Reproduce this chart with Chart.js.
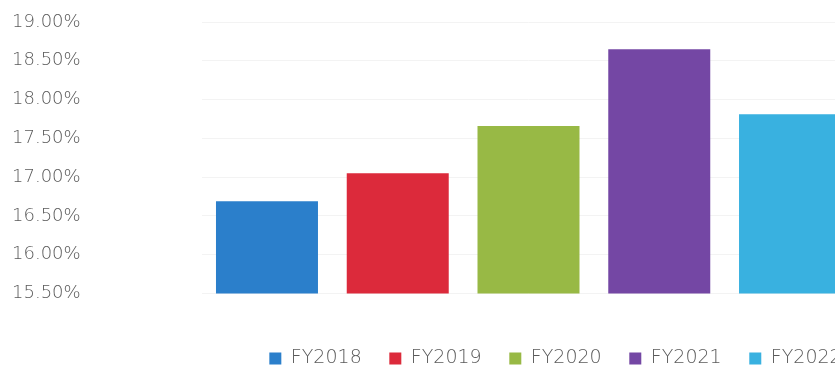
<!DOCTYPE html>
<html>
<head>
<meta charset="utf-8">
<script src="https://cdn.jsdelivr.net/npm/chart.js@4/dist/chart.umd.min.js"></script>
<style>
  html, body { margin: 0; padding: 0; background: #fff; overflow: hidden; }
  #wrap { position: relative; width: 1100px; height: 378px; }
</style>
</head>
<body>
<div id="wrap"><canvas id="myChart"></canvas></div>
<script>
const years = ['FY2018', 'FY2019', 'FY2020', 'FY2021', 'FY2022'];
const ratios = [16.69, 17.05, 17.66, 18.65, 17.81];
const yTicks = [15.5, 16, 16.5, 17, 17.5, 18, 18.5, 19];

const chartColors = {
  blue: '#2b7fcb',
  red: '#dc2a3b',
  green: '#98b945',
  purple: '#7447a4',
  cyan: '#39b1e0'
};
const barColors = [chartColors.blue, chartColors.red, chartColors.green, chartColors.purple, chartColors.cyan];

const tickFont = { family: 'DejaVu Sans', size: 18, weight: 300 };
const legendFont = { family: 'DejaVu Sans', size: 19, weight: 300 };

// one dataset per year so each gets its own legend entry
const datasets = years.map((year, i) => ({
  label: year,
  data: years.map((_, j) => (i === j ? ratios[i] : null)),
  backgroundColor: barColors[i],
  borderWidth: 0,
  barPercentage: 0.78,
  categoryPercentage: 1
}));

var ctx = document.getElementById('myChart').getContext('2d');
var myChart = new Chart(ctx, {
  type: 'bar',
  data: {
    labels: years,
    datasets: datasets
  },
  options: {
    responsive: true,
    maintainAspectRatio: false,
    animation: false,
    layout: {
      padding: { top: 22, left: 12, right: 1, bottom: 0 }
    },
    datasets: {
      bar: { grouped: false }
    },
    scales: {
      x: {
        ticks: { display: false },
        grid: { display: false },
        border: { display: false },
        afterFit: (scale) => { scale.height = 27.9; }
      },
      y: {
        min: yTicks[0],
        max: yTicks[yTicks.length - 1],
        afterBuildTicks: (scale) => { scale.ticks = yTicks.map(v => ({ value: v })); },
        ticks: {
          crossAlign: 'far',
          color: '#5a5a5a',
          font: tickFont,
          callback: (v) => v.toFixed(2) + '%'
        },
        grid: { color: '#f3f3f3', drawTicks: false },
        border: { display: false },
        afterFit: (scale) => { scale.width = 189.6; }
      },
      // empty right-hand spacer: the plot stops well before the canvas edge
      yRight: {
        position: 'right',
        ticks: { display: false },
        grid: { display: false },
        border: { display: false },
        afterFit: (scale) => { scale.width = 243.6; }
      }
    },
    plugins: {
      legend: {
        position: 'bottom',
        align: 'center',
        labels: {
          boxWidth: 12,
          boxHeight: 12,
          padding: 27.6,
          color: '#5a5a5a',
          font: legendFont
        }
      },
      tooltip: { enabled: false }
    }
  }
});
</script>
</body>
</html>
